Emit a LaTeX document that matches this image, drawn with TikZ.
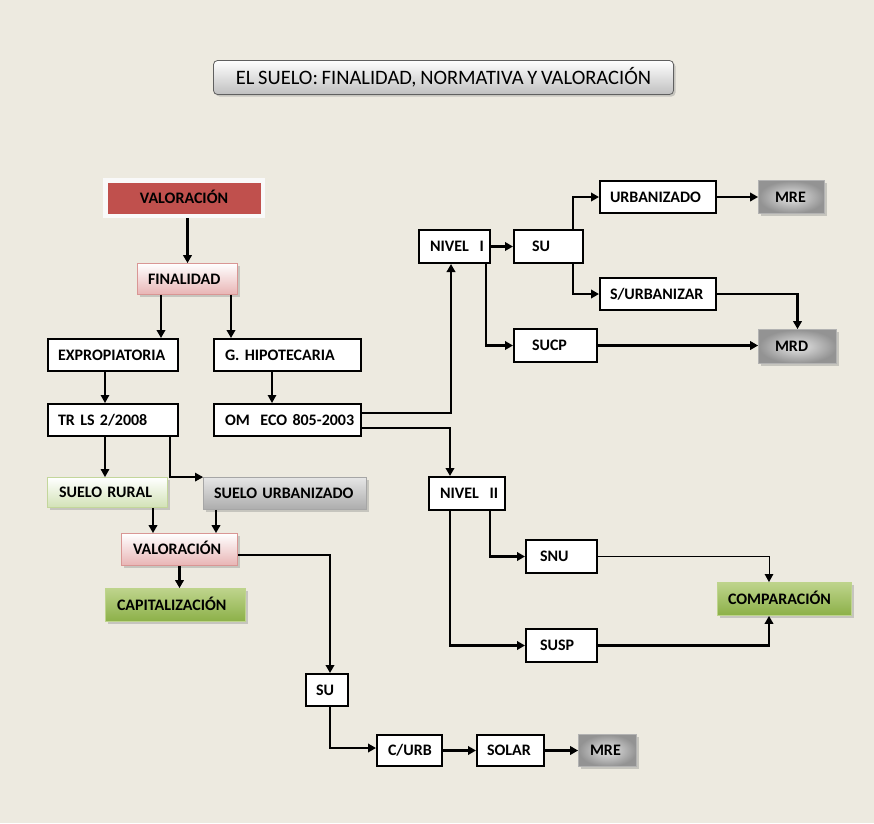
\documentclass[tikz,border=0pt]{standalone}
\usepackage{fontspec}
\setmainfont{Carlito}[WordSpace=0.8]
\usetikzlibrary{arrows.meta,shadows}
\frenchspacing
\definecolor{paper}{RGB}{237,234,224}
\definecolor{rojo}{RGB}{192,80,77}
\definecolor{rosa}{RGB}{232,180,180}
\definecolor{rosaborde}{RGB}{217,150,148}
\definecolor{verdeclaro}{RGB}{210,226,182}
\definecolor{verdeborde}{RGB}{195,214,155}
\definecolor{verde}{RGB}{140,176,72}
\definecolor{verdesup}{RGB}{190,212,140}
\tikzset{
  lbl/.style={font=\fontsize{16}{18}\selectfont\bfseries, align=left, text height=10.3pt, text depth=0pt, inner ysep=0pt},
  box/.style={lbl, draw=black, line width=2pt, fill=white},
  cbox/.style={lbl, line width=0.8pt, drop shadow={shadow xshift=2pt, shadow yshift=-2pt, opacity=0.35}},
  pinkbox/.style={cbox, draw=rosaborde, top color=white, bottom color=rosa},
  ruralbox/.style={cbox, draw=verdeborde, top color=white, bottom color=verdeclaro},
  greenbox/.style={cbox, draw=verdesup, top color=verdesup, bottom color=verde},
  greybox/.style={cbox, draw=gray!70, top color=gray!20, bottom color=gray!65},
  mrbox/.style={cbox, draw=gray!60, inner color=gray!20, outer color=gray!85},
  arr/.style={-{Triangle[length=8pt,width=8.5pt]}, line width=2.2pt},
  tarr/.style={arr, line width=1.4pt},
}
\begin{document}
\begin{tikzpicture}[x=1pt,y=-1pt]
  \fill[paper] (0,0) rectangle (874,823);
  \useasboundingbox (0,0) rectangle (874,823);

  % title
  \node[draw=gray!75!black, line width=0.8pt, rounded corners=4pt, top color=white, bottom color=gray!50,
        minimum width=460pt, minimum height=34pt, font=\fontsize{20.5}{23}\selectfont,
        drop shadow={shadow xshift=2pt, shadow yshift=-2pt, opacity=0.35}] (tit) at (443.5,77.5)
        {EL SUELO: FINALIDAD, NORMATIVA Y VALORACIÓN};

  % left column
  \node[lbl, fill=rojo, draw=white!95!gray, line width=4.5pt, align=center, minimum width=157.5pt, minimum height=35.5pt,
        drop shadow={shadow xshift=2pt, shadow yshift=-2pt, opacity=0.35}] (val1) at (184,198) {VALORACIÓN};
  \node[pinkbox, text width=79pt, inner xsep=10.5pt, minimum height=31pt] (fin) at (187.5,279) {FINALIDAD};
  \node[box, text width=110pt, inner xsep=10pt, minimum height=32pt] (exp) at (113,355) {EXPROPIATORIA};
  \node[box, text width=125pt, inner xsep=11pt, minimum height=32pt] (gh) at (287.5,355) {\mbox{G. HIPOTECARIA}};
  \node[box, text width=110pt, inner xsep=10pt, minimum height=32pt] (tr) at (113,420) {\mbox{TR LS 2/2008}};
  \node[box, text width=125pt, inner xsep=11pt, minimum height=32pt] (om) at (287.5,420) {\mbox{OM~~ECO 805-2003}};
  \node[ruralbox, text width=97pt, inner xsep=11.5pt, minimum height=30pt] (sr) at (107.5,492.5) {\mbox{SUELO RURAL}};
  \node[greybox, text width=142pt, inner xsep=10.5pt, minimum height=32pt] (sub) at (285,493.5) {\mbox{SUELO URBANIZADO}};
  \node[pinkbox, text width=93pt, inner xsep=11.5pt, minimum height=32pt] (val2) at (179.5,549.5) {VALORACIÓN};
  \node[greenbox, text width=117pt, inner xsep=11.5pt, minimum height=33pt] (cap) at (175.5,605) {CAPITALIZACIÓN};

  % bottom row
  \node[box, text width=22pt, inner xsep=10pt, minimum height=32pt] (su2) at (327,690) {SU};
  \node[box, text width=43pt, inner xsep=11pt, minimum height=31pt] (curb) at (409.5,750.5) {C/URB};
  \node[box, text width=47pt, inner xsep=10pt, minimum height=31pt] (solar) at (510.5,750.5) {SOLAR};
  \node[mrbox, text width=35pt, inner xsep=11.5pt, minimum height=32pt] (mre2) at (607.5,750.5) {MRE};

  % right part
  \node[box, text width=49pt, inner xsep=11pt, minimum height=33pt] (n1) at (454.5,246.5) {\mbox{NIVEL~~I}};
  \node[box, text width=33pt, inner xsep=18pt, minimum height=33pt] (su) at (548.5,246.5) {SU};
  \node[box, text width=96pt, inner xsep=10pt, minimum height=32pt] (urb) at (658,197) {URBANIZADO};
  \node[box, text width=96pt, inner xsep=10pt, minimum height=32pt] (surb) at (658,294) {S/URBANIZAR};
  \node[box, text width=47pt, inner xsep=18pt, minimum height=33pt] (sucp) at (555.5,345.5) {SUCP};
  \node[mrbox, text width=33pt, inner xsep=16.5pt, minimum height=33pt] (mre1) at (791.5,197) {MRE};
  \node[mrbox, text width=45pt, inner xsep=16.5pt, minimum height=34pt] (mrd) at (797.5,346.5) {MRD};
  \node[box, text width=54pt, inner xsep=11pt, minimum height=33pt] (n2) at (467,493.5) {\mbox{NIVEL~~II}};
  \node[box, text width=43pt, inner xsep=14pt, minimum height=33pt] (snu) at (561.5,556.5) {SNU};
  \node[box, text width=43pt, inner xsep=14pt, minimum height=33pt] (susp) at (561.5,645.5) {SUSP};
  \node[greenbox, text width=113pt, inner xsep=10.5pt, minimum height=33pt] (comp) at (784.5,599) {COMPARACIÓN};

  % connectors, left
  \draw[arr] (fin.north |- val1.south) -- (fin.north);
  \draw[arr] ([xshift=-26.5pt]fin.south) -- ([xshift=-26.5pt]fin.south |- exp.north);
  \draw[arr] ([xshift=43.5pt]fin.south) -- ([xshift=43.5pt]fin.south |- gh.north);
  \draw[tarr] ([xshift=-8pt]exp.south) -- ([xshift=-8pt]exp.south |- tr.north);
  \draw[tarr] ([xshift=-15.5pt]gh.south) -- ([xshift=-15.5pt]gh.south |- om.north);
  \draw[tarr] ([xshift=-8pt]tr.south) -- ([xshift=-8pt]tr.south |- sr.north);
  \draw[tarr] ([xshift=57pt]tr.south) |- (sub.north west);
  \draw[arr] ([xshift=45.5pt]sr.south) -- ([xshift=45.5pt]sr.south |- val2.north);
  \draw[arr] ([xshift=-69pt]sub.south) -- ([xshift=-69pt]sub.south |- val2.north);
  \draw[arr] (val2.south) -- (val2.south |- cap.north);
  \draw[arr] ([yshift=-5.5pt]val2.east) -| ([xshift=3pt]su2.north);
  \draw[arr] ([xshift=3pt]su2.south) |- ([yshift=2.5pt]curb.west);
  \draw[arr] (curb) -- (solar);
  \draw[arr] (solar) -- (mre2);

  % connectors, right
  \draw[arr] ([yshift=7pt]om.east) -| ([xshift=-3.5pt]n1.south);
  \draw[arr] ([yshift=-8pt]om.east) -| ([xshift=-17pt]n2.north);
  \draw[arr] (n1) -- (su);
  \draw[arr] ([xshift=31.5pt]n1.south) |- (sucp.west);
  \draw[arr] ([xshift=24.5pt]su.north) |- (urb.west);
  \draw[arr] ([xshift=24.5pt]su.south) |- (surb.west);
  \draw[arr] (urb) -- (mre1);
  \draw[arr] (surb.east) -| (mrd.north);
  \draw[arr] (sucp.east) -- (sucp.east -| mrd.west);
  \draw[arr] ([xshift=23pt]n2.south) |- (snu.west);
  \draw[arr] ([xshift=-17pt]n2.south) |- (susp.west);
  \draw[arr, line width=1pt] (snu.east) -| ([xshift=-15.5pt]comp.north);
  \draw[arr] (susp.east) -| ([xshift=-15.5pt]comp.south);
\end{tikzpicture}
\end{document}
